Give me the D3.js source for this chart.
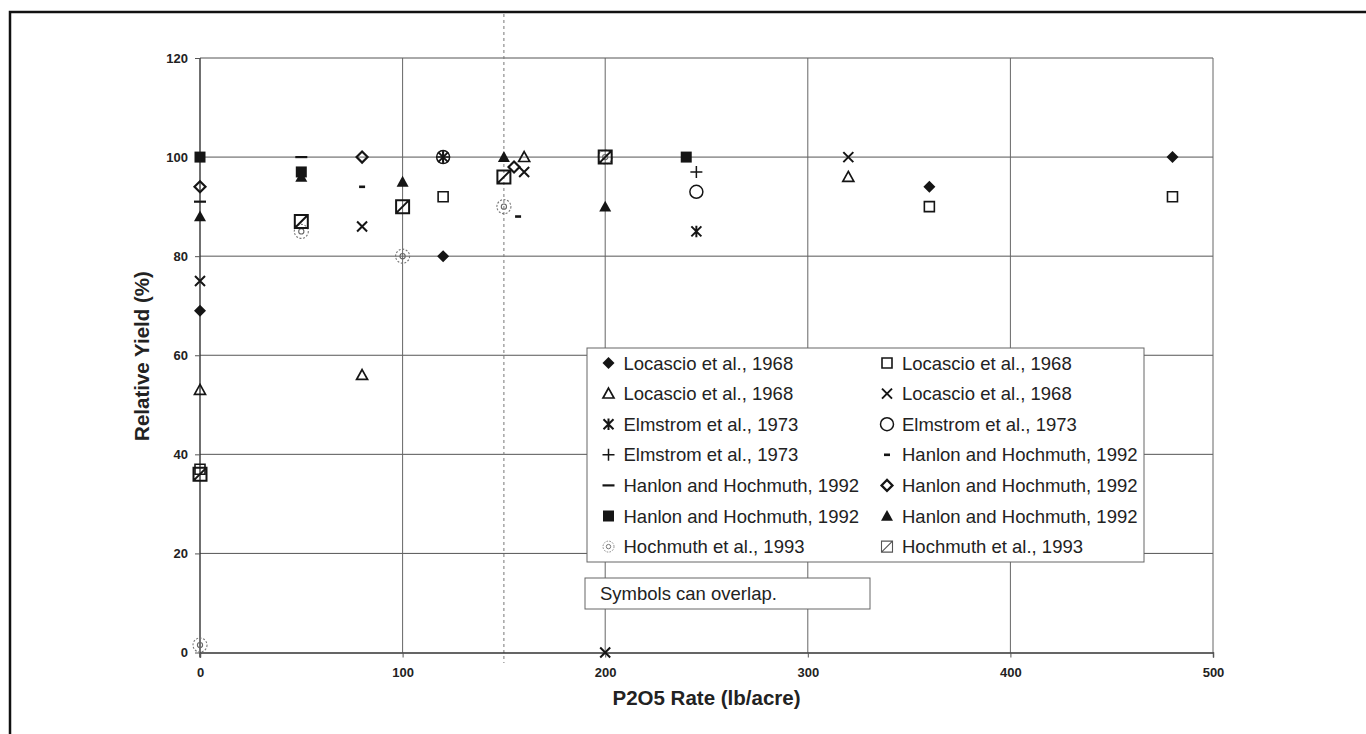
<!DOCTYPE html>
<html>
<head>
<meta charset="utf-8">
<script src="https://cdn.jsdelivr.net/npm/d3@7"></script>
<style>
body { margin: 0; background: #fff; }
svg { display: block; font-family: "Liberation Sans", Arial, Helvetica, sans-serif; }
</style>
</head>
<body>
<svg id="chart" width="1366" height="734"></svg>
<script>
// values: [P2O5 rate (lb/acre), relative yield (%)]
const locascioDiamond = [[0, 69], [120, 80], [360, 94], [480, 100]];
const locascioSquare = [[0, 37], [120, 92], [360, 90], [480, 92]];
const locascioTriangle = [[0, 53], [80, 56], [160, 100], [320, 96]];
const locascioX = [[0, 75], [80, 86], [160, 97], [200, 0], [320, 100]];
const elmstromStar = [[120, 100], [245, 85]];
const elmstromCircle = [[120, 100], [245, 93]];
const elmstromPlus = [[120, 100], [245, 97]];
const hanlonShortDash = [[80, 94], [157, 88]];
const hanlonLongDash = [[0, 91], [50, 100]];
const hanlonDiamond = [[0, 94], [80, 100], [155, 98]];
const hanlonSquare = [[0, 100], [50, 97], [240, 100]];
const hanlonTriangle = [[0, 88], [50, 96], [100, 95], [150, 100], [200, 90]];
const hochmuthTarget = [[0, 1.5], [50, 85], [100, 80], [150, 90], [200, 100]];
const hochmuthHatch = [[0, 36], [50, 87], [100, 90], [150, 96], [200, 100]];

const legendLabels = [
    "Locascio et al., 1968", "Locascio et al., 1968",
    "Locascio et al., 1968", "Locascio et al., 1968",
    "Elmstrom et al., 1973", "Elmstrom et al., 1973",
    "Elmstrom et al., 1973", "Hanlon and Hochmuth, 1992",
    "Hanlon and Hochmuth, 1992", "Hanlon and Hochmuth, 1992",
    "Hanlon and Hochmuth, 1992", "Hanlon and Hochmuth, 1992",
    "Hochmuth et al., 1993", "Hochmuth et al., 1993"
];

const xTicks = [0, 100, 200, 300, 400, 500];
const yTicks = [0, 20, 40, 60, 80, 100, 120];
const cutoffRate = 150;
const noteText = "Symbols can overlap.";

// custom symbol types for d3.symbol (size = half width squared)
const shapes = {
    diamond: { draw(c, s) { const r = Math.sqrt(s); c.moveTo(0, -r); c.lineTo(r, 0); c.lineTo(0, r); c.lineTo(-r, 0); c.closePath(); } },
    square: { draw(c, s) { const r = Math.sqrt(s); c.rect(-r, -r, 2 * r, 2 * r); } },
    triangle: { draw(c, s) { const r = Math.sqrt(s); c.moveTo(0, -r); c.lineTo(r, r * 0.8); c.lineTo(-r, r * 0.8); c.closePath(); } },
    x: { draw(c, s) { const r = Math.sqrt(s); c.moveTo(-r, -r); c.lineTo(r, r); c.moveTo(r, -r); c.lineTo(-r, r); } },
    star: { draw(c, s) { const r = Math.sqrt(s); c.moveTo(-r, -r); c.lineTo(r, r); c.moveTo(r, -r); c.lineTo(-r, r); c.moveTo(0, -r * 1.15); c.lineTo(0, r * 1.15); } },
    circle: { draw(c, s) { const r = Math.sqrt(s); c.moveTo(r, 0); c.arc(0, 0, r, 0, 2 * Math.PI); } },
    plus: { draw(c, s) { const r = Math.sqrt(s); c.moveTo(-r, 0); c.lineTo(r, 0); c.moveTo(0, -r); c.lineTo(0, r); } },
    dash: { draw(c, s) { const r = Math.sqrt(s); c.moveTo(-r, 0); c.lineTo(r, 0); } },
    hatch: { draw(c, s) { const r = Math.sqrt(s); c.rect(-r, -r, 2 * r, 2 * r); c.moveTo(-r, r); c.lineTo(r, -r); } }
};

const ink = "#151515";
const markers = [
    [{ shape: "diamond", r: 6, fill: ink }],
    [{ shape: "square", r: 5, stroke: ink, sw: 1.6 }],
    [{ shape: "triangle", r: 5.5, stroke: ink, sw: 1.7 }],
    [{ shape: "x", r: 5, stroke: ink, sw: 2 }],
    [{ shape: "star", r: 5, stroke: ink, sw: 2 }],
    [{ shape: "circle", r: 6.5, stroke: ink, sw: 1.5 }],
    [{ shape: "plus", r: 6, stroke: ink, sw: 1.5 }],
    [{ shape: "dash", r: 3, stroke: ink, sw: 2.6 }],
    [{ shape: "dash", r: 6, stroke: ink, sw: 2.2 }],
    [{ shape: "diamond", r: 5.5, stroke: ink, sw: 2.2 }],
    [{ shape: "square", r: 5.5, fill: ink }],
    [{ shape: "triangle", r: 6, fill: ink }],
    [{ shape: "circle", r: 7, stroke: "#777", sw: 1.1, dash: "2,1.6" },
     { shape: "circle", r: 2.6, stroke: "#666", sw: 1.1 }],
    [{ shape: "hatch", r: 6.5, stroke: ink, sw: 2 }]
];

// the legend draws the last two symbols smaller and lighter
const legendMarkers = markers.slice();
legendMarkers[12] = [{ shape: "circle", r: 5.5, stroke: "#888", sw: 1, dash: "1.6,1.3" },
                     { shape: "circle", r: 2.2, stroke: "#777", sw: 1 }];
legendMarkers[13] = [{ shape: "hatch", r: 5.5, stroke: "#555", sw: 1.1 }];

const seriesData = [
    locascioDiamond, locascioSquare, locascioTriangle, locascioX,
    elmstromStar, elmstromCircle, elmstromPlus, hanlonShortDash,
    hanlonLongDash, hanlonDiamond, hanlonSquare, hanlonTriangle,
    hochmuthTarget, hochmuthHatch
];

const svg = d3.select("#chart");

// outer frame (runs off the right and bottom of the picture)
svg.append("rect")
    .attr("x", 10).attr("y", 12)
    .attr("width", 1420).attr("height", 800)
    .attr("fill", "none").attr("stroke", "#111").attr("stroke-width", 2.5);

const x = d3.scaleLinear().domain([0, 500]).range([200, 1213]);
const y = d3.scaleLinear().domain([0, 120]).range([652.5, 58]);

// gridlines
svg.append("g")
    .selectAll("line")
    .data(yTicks.slice(1))
    .enter()
    .append("line")
    .attr("x1", x(0)).attr("x2", x(500))
    .attr("y1", d => y(d)).attr("y2", d => y(d))
    .attr("stroke", "#555").attr("stroke-width", 1);

svg.append("g")
    .selectAll("line")
    .data(xTicks.slice(1))
    .enter()
    .append("line")
    .attr("x1", d => x(d)).attr("x2", d => x(d))
    .attr("y1", y(0)).attr("y2", y(120))
    .attr("stroke", "#666").attr("stroke-width", 1);

// dashed reference line at 150 lb/acre
svg.append("line")
    .attr("x1", x(cutoffRate)).attr("x2", x(cutoffRate))
    .attr("y1", 14).attr("y2", 663)
    .attr("stroke", "#777").attr("stroke-width", 1)
    .attr("stroke-dasharray", "3,3");

// axes
const yAxis = svg.append("g")
    .attr("transform", `translate(${x(0)},0)`)
    .call(d3.axisLeft(y).tickValues(yTicks).tickSize(5).tickPadding(7));
const xAxis = svg.append("g")
    .attr("transform", `translate(0,${y(0)})`)
    .call(d3.axisBottom(x).tickValues(xTicks).tickSize(5).tickPadding(10));

[yAxis, xAxis].forEach(a => {
    a.select(".domain").attr("stroke", "#333").attr("stroke-width", 1.4);
    a.selectAll(".tick line").attr("stroke", "#555");
    a.selectAll(".tick text")
        .attr("fill", "#222")
        .style("font-size", "13px")
        .style("font-weight", "bold")
        .style("font-family", "'Liberation Sans', Arial, sans-serif");
});
yAxis.select(".domain").attr("d", `M0,${y(120)}V${y(0) + 5}`);

svg.append("text")
    .attr("x", (x(0) + x(500)) / 2).attr("y", 705)
    .attr("text-anchor", "middle")
    .attr("fill", "#222")
    .style("font-size", "20.5px").style("font-weight", "bold")
    .text("P2O5 Rate (lb/acre)");

svg.append("text")
    .attr("transform", "translate(149,356) rotate(-90)")
    .attr("text-anchor", "middle")
    .attr("fill", "#222")
    .style("font-size", "20.5px").style("font-weight", "bold")
    .text("Relative Yield (%)");

function drawMarker(g, parts) {
    parts.forEach(p => {
        g.append("path")
            .attr("d", d3.symbol().type(shapes[p.shape]).size(p.r * p.r)())
            .attr("fill", p.fill || "none")
            .attr("stroke", p.stroke || "none")
            .attr("stroke-width", p.sw || 0)
            .attr("stroke-dasharray", p.dash || null);
    });
}

// data points
seriesData.forEach((data, i) => {
    svg.append("g")
        .selectAll("g")
        .data(data)
        .enter()
        .append("g")
        .attr("transform", d => `translate(${x(d[0])},${y(d[1])})`)
        .each(function () { drawMarker(d3.select(this), markers[i]); });
});

// legend
const lg = svg.append("g").attr("transform", "translate(587,348)");
lg.append("rect")
    .attr("width", 557).attr("height", 214)
    .attr("fill", "#fff").attr("stroke", "#666").attr("stroke-width", 1);

legendLabels.forEach((label, i) => {
    const col = i % 2, row = Math.floor(i / 2);
    const cy = 15 + row * 30.6;
    const sx = col === 0 ? 21.5 : 300;
    const item = lg.append("g");
    drawMarker(item.append("g").attr("transform", `translate(${sx},${cy})`), legendMarkers[i]);
    item.append("text")
        .attr("x", sx + 15).attr("y", cy + 6.5)
        .attr("fill", "#222")
        .style("font-size", "18.5px")
        .text(label);
});

// note box
const note = svg.append("g").attr("transform", "translate(585,578)");
note.append("rect")
    .attr("width", 285).attr("height", 31)
    .attr("fill", "#fff").attr("stroke", "#666").attr("stroke-width", 1);
note.append("text")
    .attr("x", 15).attr("y", 21.5)
    .attr("fill", "#222")
    .style("font-size", "18.5px")
    .text(noteText);
</script>
</body>
</html>
